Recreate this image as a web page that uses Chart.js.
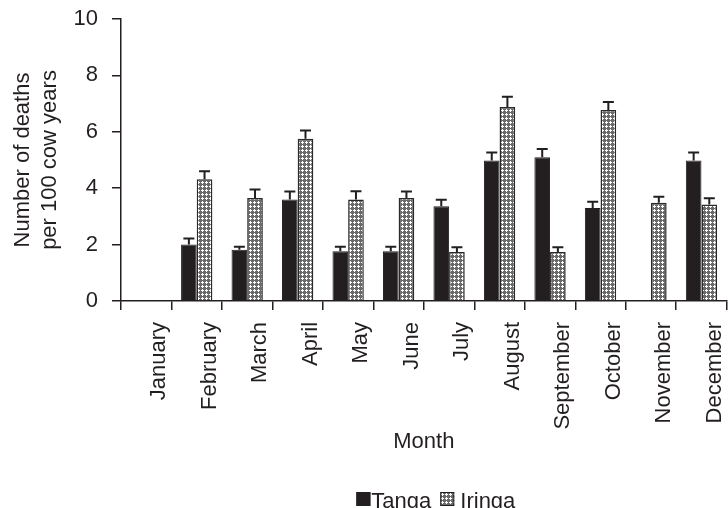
<!DOCTYPE html>
<html>
<head>
<meta charset="utf-8">
<script src="https://cdn.jsdelivr.net/npm/chart.js@4.4.0/dist/chart.umd.min.js"></script>
<style>
  html, body { margin: 0; padding: 0; background: #fff; overflow: hidden; }
  #wrap { width: 728px; height: 508px; overflow: hidden; position: relative; }
  canvas { display: block; }
</style>
</head>
<body>
<div id="wrap"><canvas id="deathsChart" width="740" height="508"></canvas></div>
<script>
// Deaths per 100 cow years by month
const months = ['January', 'February', 'March', 'April', 'May', 'June', 'July',
                'August', 'September', 'October', 'November', 'December'];
const tanga = [0, 2.0, 1.82, 3.6, 1.76, 1.76, 3.36, 4.98, 5.1, 3.3, 0, 4.98];
const iringa = [0, 4.32, 3.65, 5.75, 3.6, 3.65, 1.74, 6.88, 1.74, 6.77, 3.48, 3.42];
// upper error bar lengths
const tangaErr = [0, 0.22, 0.1, 0.28, 0.16, 0.16, 0.23, 0.29, 0.29, 0.22, 0, 0.29];
const iringaErr = [0, 0.28, 0.3, 0.3, 0.29, 0.23, 0.17, 0.36, 0.17, 0.29, 0.22, 0.22];
const yTicks = [0, 2, 4, 6, 8, 10];

const INK = '#231f20';
const FONT = "'Liberation Sans', Arial, sans-serif";

// small dotted fill like the print hatching
function makePattern() {
    const c = document.createElement('canvas');
    c.width = 4; c.height = 4;
    const g = c.getContext('2d');
    g.fillStyle = '#6a6a6a';
    g.fillRect(0, 0, 4, 4);
    g.fillStyle = '#ffffff';
    [[2, 1], [1, 2], [2, 2], [3, 2], [2, 3]].forEach(p => g.fillRect(p[0], p[1], 1, 1));
    return g.createPattern(c, 'repeat');
}
const dots = makePattern();

const errorBars = {
    id: 'errorBars',
    afterDatasetsDraw(chart) {
        const ctx = chart.ctx;
        const y = chart.scales.y;
        chart.data.datasets.forEach((ds, i) => {
            const meta = chart.getDatasetMeta(i);
            meta.data.forEach((bar, j) => {
                const e = ds.errors[j];
                if (!e) return;
                const top = y.getPixelForValue(ds.data[j] + e);
                ctx.save();
                ctx.strokeStyle = INK;
                ctx.lineWidth = 2;
                ctx.beginPath();
                ctx.moveTo(bar.x, bar.y);
                ctx.lineTo(bar.x, top);
                ctx.moveTo(bar.x - 5.5, top);
                ctx.lineTo(bar.x + 5.5, top);
                ctx.stroke();
                ctx.restore();
            });
        });
    }
};

// legend drawn by hand so the box sits tight against the label
const bottomLegend = {
    id: 'bottomLegend',
    afterDraw(chart) {
        const ctx = chart.ctx;
        const area = chart.chartArea;
        ctx.save();
        ctx.font = '22px ' + FONT;
        ctx.textBaseline = 'alphabetic';
        const items = chart.data.datasets.map((ds, i) => ({
            text: ds.label, fill: ds.backgroundColor, gap: i === 0 ? 1 : 6
        }));
        const box = 14, spacing = 9;
        let total = 0;
        items.forEach((it, i) => {
            it.w = ctx.measureText(it.text).width;
            total += box + it.gap + it.w + (i < items.length - 1 ? spacing : 0);
        });
        let x = (area.left + area.right) / 2 + 12 - total / 2;
        const base = 508;
        items.forEach(it => {
            ctx.fillStyle = it.fill;
            ctx.fillRect(x, base - 16, box, box);
            ctx.strokeStyle = INK;
            ctx.lineWidth = 1;
            ctx.strokeRect(x + 0.5, base - 15.5, box - 1, box - 1);
            ctx.fillStyle = INK;
            ctx.fillText(it.text, x + box + it.gap, base);
            x += box + it.gap + it.w + spacing;
        });
        ctx.restore();
    }
};

const ctx = document.getElementById('deathsChart');
new Chart(ctx.getContext('2d'), {
    type: 'bar',
    data: {
        labels: months,
        datasets: [{
            label: 'Tanga',
            data: tanga,
            errors: tangaErr,
            backgroundColor: INK,
            borderColor: INK,
            borderWidth: 1
        }, {
            label: 'Iringa',
            data: iringa,
            errors: iringaErr,
            backgroundColor: dots,
            borderColor: '#2a2a2a',
            borderWidth: 1.5
        }]
    },
    plugins: [errorBars, bottomLegend],
    options: {
        responsive: false,
        animation: false,
        devicePixelRatio: 1,
        layout: { padding: { top: 19, right: 3, bottom: 53, left: 0 } },
        datasets: { bar: { categoryPercentage: 0.62, barPercentage: 1.0 } },
        plugins: {
            legend: { display: false },
            tooltip: { enabled: false }
        },
        scales: {
            x: {
                offset: true,
                grid: { offset: true, drawOnChartArea: false, drawTicks: true, tickLength: 9, color: INK, lineWidth: 1.5 },
                border: { color: INK, width: 1.5 },
                ticks: {
                    color: INK,
                    font: { family: FONT, size: 22 },
                    minRotation: 90,
                    maxRotation: 90,
                    labelOffset: 13,
                    padding: 12,
                    autoSkip: false
                },
                title: {
                    display: true,
                    text: 'Month',
                    color: INK,
                    font: { family: FONT, size: 22 },
                    padding: { top: -13, bottom: 0 }
                }
            },
            y: {
                min: 0,
                max: 10,
                afterBuildTicks: scale => { scale.ticks = yTicks.map(v => ({ value: v })); },
                afterFit: scale => {
                    scale.width = 121;
                    scale.paddingTop = 0;
                    scale.paddingBottom = 0;
                },
                grid: { drawOnChartArea: false, drawTicks: true, tickLength: 9, color: INK, lineWidth: 1.5 },
                border: { color: INK, width: 1.5 },
                ticks: {
                    color: INK,
                    font: { family: FONT, size: 22 },
                    padding: 14
                },
                title: {
                    display: true,
                    text: ['Number of deaths', 'per 100 cow years'],
                    color: INK,
                    font: { family: FONT, size: 22, lineHeight: 1.22 },
                    padding: { top: 10, bottom: 0 }
                }
            }
        }
    }
});
</script>
</body>
</html>
